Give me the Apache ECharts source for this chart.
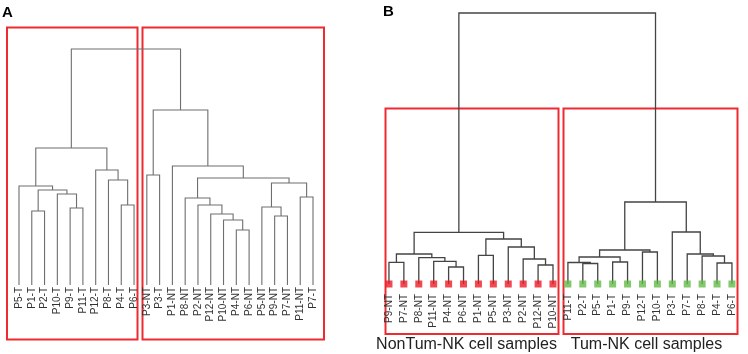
<!DOCTYPE html>
<html><head><meta charset="utf-8">
<script src="https://cdn.jsdelivr.net/npm/echarts@6/dist/echarts.min.js"></script>
<style>html,body{margin:0;padding:0;background:#fff}#c{width:748px;height:354px}</style>
</head><body><div id="c"></div>
<script>
// Panel A: leaf order and merges [childA, childB, height]; numbers refer to earlier merges
const leavesA = ['P5-T','P1-T','P2-T','P10-T','P9-T','P11-T','P12-T','P8-T','P4-T','P6-T',
  'P3-NT','P3-T','P1-NT','P8-NT','P2-NT','P12-NT','P10-NT','P4-NT','P6-NT','P5-NT','P9-NT','P7-NT','P11-NT','P7-T'];
const mergesA = [
  ['P1-T','P2-T',74],    // 0
  ['P9-T','P11-T',77],   // 1
  ['P10-T',1,91],        // 2
  [0,2,95],              // 3
  ['P5-T',3,99],         // 4
  ['P4-T','P6-T',80],    // 5
  ['P8-T',5,105],        // 6
  ['P12-T',6,115],       // 7
  [4,7,137],             // 8
  ['P3-NT','P3-T',110],  // 9
  ['P4-NT','P6-NT',55],  // 10
  ['P10-NT',10,65],      // 11
  ['P12-NT',11,71],      // 12
  ['P2-NT',12,80],       // 13
  ['P8-NT',13,87],       // 14
  ['P9-NT','P7-NT',69],  // 15
  ['P5-NT',15,78],       // 16
  ['P11-NT','P7-T',88],  // 17
  [16,17,102],           // 18
  [14,18,107],           // 19
  ['P1-NT',19,119],      // 20
  [9,20,175],            // 21
  [8,21,236]             // 22
];
// Panel B
const leavesB = ['P9-NT','P7-NT','P8-NT','P11-NT','P4-NT','P6-NT','P1-NT','P5-NT','P3-NT','P2-NT','P12-NT','P10-NT',
  'P11-T','P2-T','P5-T','P1-T','P9-T','P12-T','P10-T','P3-T','P7-T','P8-T','P4-T','P6-T'];
const mergesB = [
  ['P9-NT','P7-NT',21.7], // 0
  ['P4-NT','P6-NT',17],   // 1
  ['P11-NT',1,22.7],      // 2
  ['P8-NT',2,26.3],       // 3
  [0,3,30],               // 4
  ['P1-NT','P5-NT',28.7], // 5
  ['P12-NT','P10-NT',19], // 6
  ['P2-NT',6,25],         // 7
  ['P3-NT',7,37],         // 8
  [5,8,45],               // 9
  [4,9,51.7],             // 10
  ['P2-T','P5-T',20.5],   // 11
  ['P11-T',11,21.5],      // 12
  ['P1-T','P9-T',22],     // 13
  [12,13,27],             // 14
  ['P12-T','P10-T',32],   // 15
  [14,15,34],             // 16
  ['P4-T','P6-T',21],     // 17
  ['P8-T',17,28],         // 18
  ['P7-T',18,30],         // 19
  ['P3-T',19,52],         // 20
  [16,20,82],             // 21
  [10,21,271]             // 22
];
const rootA = 236, rootB = 271;

function buildSegments(leaves, merges){
  const pos = {}; leaves.forEach((l,i)=>pos[l]=i);
  const nodes = [], segs = [];
  merges.forEach(([a,b,h])=>{
    const A = typeof a === 'number' ? nodes[a] : {x:pos[a], h:0};
    const B = typeof b === 'number' ? nodes[b] : {x:pos[b], h:0};
    segs.push([A.x, B.x, A.h, B.h, h]);
    nodes.push({x:(A.x+B.x)/2, h:h});
  });
  return segs;
}
function renderDendro(color, width){
  return function(params, api){
    const p0 = api.coord([0,0]), p1 = api.coord([1,0]);
    const step = p1[0]-p0[0];
    const X = v => p0[0] + v*step;
    const Y = v => api.coord([0,v])[1];
    const xa = X(api.value(0)), xb = X(api.value(1)), yt = Y(api.value(4));
    return {type:'polyline', shape:{points:[[xa,Y(api.value(2))],[xa,yt],[xb,yt],[xb,Y(api.value(3))]]},
      style:{stroke:color, lineWidth:width, fill:null}};
  };
}
const font = '"Liberation Sans", Arial, Helvetica, sans-serif';
const chart = echarts.init(document.getElementById('c'), null, {renderer:'canvas'});
const boxStyle = {stroke:'#ee2b30', lineWidth:2, fill:null};
chart.setOption({
  animation:false,
  backgroundColor:'#fff',
  grid:[
    {left:12.6, width:306.8, top:49, height:236},
    {left:381.5, width:357.9, top:13, height:271}
  ],
  xAxis:[
    {type:'category', gridIndex:0, data:leavesA, axisLine:{show:false}, axisTick:{show:false}, splitLine:{show:false},
      axisLabel:{rotate:90, interval:0, margin:2, fontSize:10, color:'#333', fontFamily:font}},
    {type:'category', gridIndex:1, data:leavesB, axisLine:{show:false}, axisTick:{show:false}, splitLine:{show:false},
      axisLabel:{rotate:90, interval:0, margin:10, fontSize:10, color:'#333', fontFamily:font}}
  ],
  yAxis:[
    {type:'value', gridIndex:0, min:0, max:rootA, show:false},
    {type:'value', gridIndex:1, min:0, max:rootB, show:false}
  ],
  series:[
    {type:'custom', xAxisIndex:0, yAxisIndex:0, silent:true, renderItem:renderDendro('#6e6e6e',1.1),
      data:buildSegments(leavesA, mergesA), encode:{x:0, y:4}},
    {type:'custom', xAxisIndex:1, yAxisIndex:1, silent:true, renderItem:renderDendro('#444',1.3),
      data:buildSegments(leavesB, mergesB), encode:{x:0, y:4}},
    {type:'scatter', xAxisIndex:1, yAxisIndex:1, silent:true, symbol:'rect', symbolSize:7,
      data:leavesB.map((l,i)=>({value:[i,0], itemStyle:{color: /-NT$/.test(l) ? '#ee1c25' : '#63bb46'}})), z:5}
  ],
  graphic:[
    {type:'text', left:2, top:5, style:{text:'A', font:'bold 15px '+font, fill:'#000'}},
    {type:'text', left:383, top:4, style:{text:'B', font:'bold 15px '+font, fill:'#000'}},
    {type:'rect', shape:{x:7, y:27.5, width:130.5, height:312}, style:boxStyle},
    {type:'rect', shape:{x:142.5, y:27.5, width:181.5, height:312}, style:boxStyle},
    {type:'rect', shape:{x:385.5, y:108.5, width:173, height:225.5}, style:boxStyle},
    {type:'rect', shape:{x:563.5, y:108.5, width:174, height:225.5}, style:boxStyle},
    {type:'text', x:466.5, y:345, style:{text:'NonTum-NK cell samples', font:'16px '+font, fill:'#222', align:'center', verticalAlign:'middle'}},
    {type:'text', x:646.5, y:345, style:{text:'Tum-NK cell samples', font:'16px '+font, fill:'#222', align:'center', verticalAlign:'middle'}}
  ]
});
</script></body></html>
